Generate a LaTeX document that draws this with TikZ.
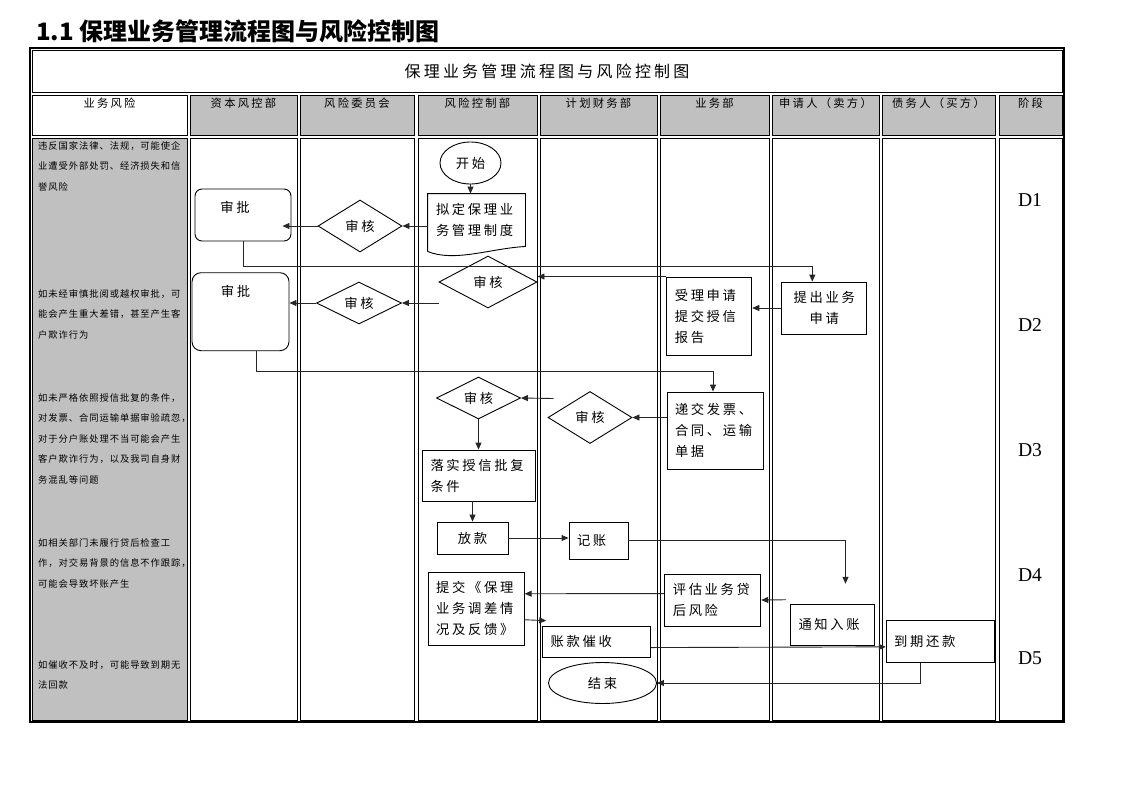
\documentclass[tikz,border=0pt]{standalone}
\usepackage{fontspec}
\setmainfont{Liberation Serif}
\newfontfamily\cjk{Noto Sans CJK SC}
\newfontfamily\cjkbody[LetterSpace=20]{Noto Sans CJK SC}
\newfontfamily\cjksmall[LetterSpace=10]{Noto Sans CJK SC}
\usetikzlibrary{shapes.geometric,arrows.meta,calc}
\definecolor{cellgray}{HTML}{C0C0C0}
\newcommand\bodytext{\cjkbody\fontsize{13.3}{21}\selectfont}
\newcommand\risktext{\cjksmall\fontsize{9.3}{20.5}\selectfont}
\newcommand\headtext{\cjkbody\fontsize{11.3}{14}\selectfont}

\begin{document}
\begin{tikzpicture}[x=1pt,y=-1pt,
  cell/.style={draw,line width=0.8pt},
  box/.style={draw,line width=0.9pt,font=\bodytext,inner xsep=8pt,inner ysep=0pt,align=left},
  rbox/.style={box,rounded corners=7pt},
  chk/.style={draw,diamond,aspect=2,line width=0.9pt,font=\bodytext,inner sep=0pt},
  term/.style={draw,ellipse,line width=0.9pt,font=\bodytext,inner sep=0pt},
  arr/.style={draw=black!85,line width=0.9pt,-{Triangle[length=7pt,width=6pt]}},
  risk/.style={anchor=north west,inner sep=0pt,align=left,font=\risktext},
  stage/.style={font=\fontsize{19.6}{20}\selectfont}
]
\useasboundingbox (0,0) rectangle (1122,793);

% heading
\node (heading) at (36,31) [anchor=west,inner sep=0pt,font=\cjk\bfseries\fontsize{24}{26}\selectfont]{1.1 保理业务管理流程图与风险控制图};

% table
\draw[line width=1.2pt] (30,48) rectangle (1064,722);
\draw[cell] (32,50) rectangle (1062,92);
\node (title) at (547,71) [font=\cjkbody\fontsize{16}{18}\selectfont]{保理业务管理流程图与风险控制图};

\foreach \xa/\xb/\hd/\bd/\name in {32/187/white/cellgray/业务风险,
    190/297/cellgray/white/资本风控部, 300/414/cellgray/white/风险委员会,
    418/537/cellgray/white/风险控制部, 540/657/cellgray/white/计划财务部,
    660/769/cellgray/white/业务部, 772/879/cellgray/white/申请人（卖方）,
    882/995/cellgray/white/债务人（买方）, 999/1062/cellgray/white/阶段}{
  \draw[cell,fill=\hd] (\xa,95) rectangle (\xb,135);
  \draw[cell,fill=\bd] (\xa,138) rectangle (\xb,720);
  \node at ({(\xa+\xb)/2},103) [font=\headtext]{\name};
}

% risks
\node (r1) at (38,141) [risk]{违反国家法律、法规，可能使企\\业遭受外部处罚、经济损失和信\\誉风险};
\node (r2) at (38,289) [risk]{如未经审慎批阅或越权审批，可\\能会产生重大差错，甚至产生客\\户欺诈行为};
\node (r3) at (38,393) [risk]{如未严格依照授信批复的条件，\\对发票、合同运输单据审验疏忽，\\对于分户账处理不当可能会产生\\客户欺诈行为，以及我司自身财\\务混乱等问题};
\node (r4) at (38,538) [risk]{如相关部门未履行贷后检查工\\作，对交易背景的信息不作跟踪，\\可能会导致坏账产生};
\node (r5) at (38,660) [risk]{如催收不及时，可能导致到期无\\法回款};

% stages
\node (d1) at (1030,200) [stage]{D1};
\node (d2) at (1030,325) [stage]{D2};
\node (d3) at (1030,450) [stage]{D3};
\node (d4) at (1030,575) [stage]{D4};
\node (d5) at (1030,658) [stage]{D5};

% flow nodes
\node (start) at (470.5,163) [term,minimum width=61pt,minimum height=42pt]{开始};
\node (rule) at (476.5,220) [box,draw=none,text width=81pt,minimum height=52pt]{拟定保理业\\务管理制度};
\draw[line width=0.9pt] ($(rule.south west)+(0,5)$) -- (rule.north west) -- (rule.north east) -- (rule.south east)
  .. controls ($(rule.south east)+(-35,2)$) and ($(rule.south west)+(27,16)$) .. ($(rule.south west)+(0,5)$);
\node (chk1) at (360,226) [chk,minimum width=84pt,minimum height=52pt]{审核};
\node (appr1) at (243,215) [rbox,minimum width=96pt,minimum height=52pt,
  label={[anchor=center,xshift=-8pt,yshift=-19pt,font=\bodytext]north:审批}]{};

\node (apply) at (824.3,308) [box,align=center,text width=69pt,minimum height=52pt]{提出业务\\申请};
\node (accept) at (709.3,316) [box,text width=69pt,minimum height=78pt]{受理申请\\提交授信\\报告};
\node (chk2) at (488,282) [chk,minimum width=98pt,minimum height=52pt]{审核};
\node (chk3) at (359,303) [chk,minimum width=85pt,minimum height=42pt]{审核};
\node (appr2) at (240.5,311.7) [rbox,rounded corners=9pt,minimum width=97pt,minimum height=78pt,
  label={[anchor=center,xshift=-5pt,yshift=-19pt,font=\bodytext]north:审批}]{};

\node (submit) at (715,430.5) [box,text width=80pt,minimum height=77pt]{递交发票、\\合同、运输\\单据};
\node (chk4) at (590,417.5) [chk,minimum width=84pt,minimum height=52pt]{审核};
\node (chk5) at (478.5,398) [chk,minimum width=84pt,minimum height=42pt]{审核};
\node (cond) at (479,475.5) [box,text width=97pt,minimum height=51pt]{落实授信批复\\条件};
\node (loan) at (472.5,538) [box,align=center,text width=55pt,minimum height=32pt]{放款};
\node (book) at (598.5,540.5) [box,text width=43pt,minimum height=37pt]{记账};

\node (notify) at (832.5,624.7) [box,text width=68pt,minimum height=41pt]{通知入账};
\node (eval) at (712.8,600) [box,text width=80pt,minimum height=52pt]{评估业务贷\\后风险};
\node (report) at (476.2,608.7) [box,text width=80pt,minimum height=73pt]{提交《保理\\业务调差情\\况及反馈》};
\node (collect) at (596.7,641.6) [box,text width=92pt,minimum height=31pt]{账款催收};
\node (due) at (940.2,641.3) [box,text width=92pt,minimum height=42pt]{到期还款};
\node (end) at (602.5,683) [term,minimum width=108pt,minimum height=41pt]{结束};

% connectors
\draw[arr] (start.south) -- (start.south |- rule.north);
\draw[arr] ($(rule.west)+(0,6)$) -- (chk1.east);
\draw[arr] (chk1.west) -- ($(appr1.east)+(-9,11)$);
\draw[arr] (appr1.south) -- ++(0,24.7) -| ($(apply.north)+(-12,0)$);
\draw[arr] (apply.west) -- (apply.west -| accept.east);
\draw[arr] (accept.north west) -- (accept.north west -| chk2.east);
\draw[arr] ($(chk2.west)+(0,21)$) -- (chk3.east);
\draw[arr] (chk3.west) -- (chk3.west -| appr2.east);
\draw[arr] ($(appr2.south)+(16,0)$) -- ++(0,20) -| ($(submit.north)+(-2,0)$);
\draw[arr] (submit.west |- chk4.east) -- (chk4.east);
\draw[arr] ($(chk4.west)+(6,-19)$) -- (chk5.east);
\draw[arr] (chk5.south) -- (chk5.south |- cond.north);
\draw[arr] (loan.north |- cond.south) -- (loan.north);
\draw[arr] (loan.east) -- (loan.east -| book.west);
\draw[arr] (book.east) -| ($(notify.north)+(13,-20)$);
\draw[arr] ($(notify.north west)+(-4,-4)$) -- (eval.east);
\draw[arr] ($(eval.north west)+(0,20)$) -- ($(report.north east)+(0,22)$);
\draw[arr] ($(report.north east)+(0,48)$) -- ($(collect.north west)+(4,-5)$);
\draw[arr] ($(collect.south east)+(0,-10)$) -- ($(due.north west)+(0,27)$);
\draw[arr] ($(due.south)+(-20,0)$) |- (end.east);

\end{tikzpicture}
\end{document}
